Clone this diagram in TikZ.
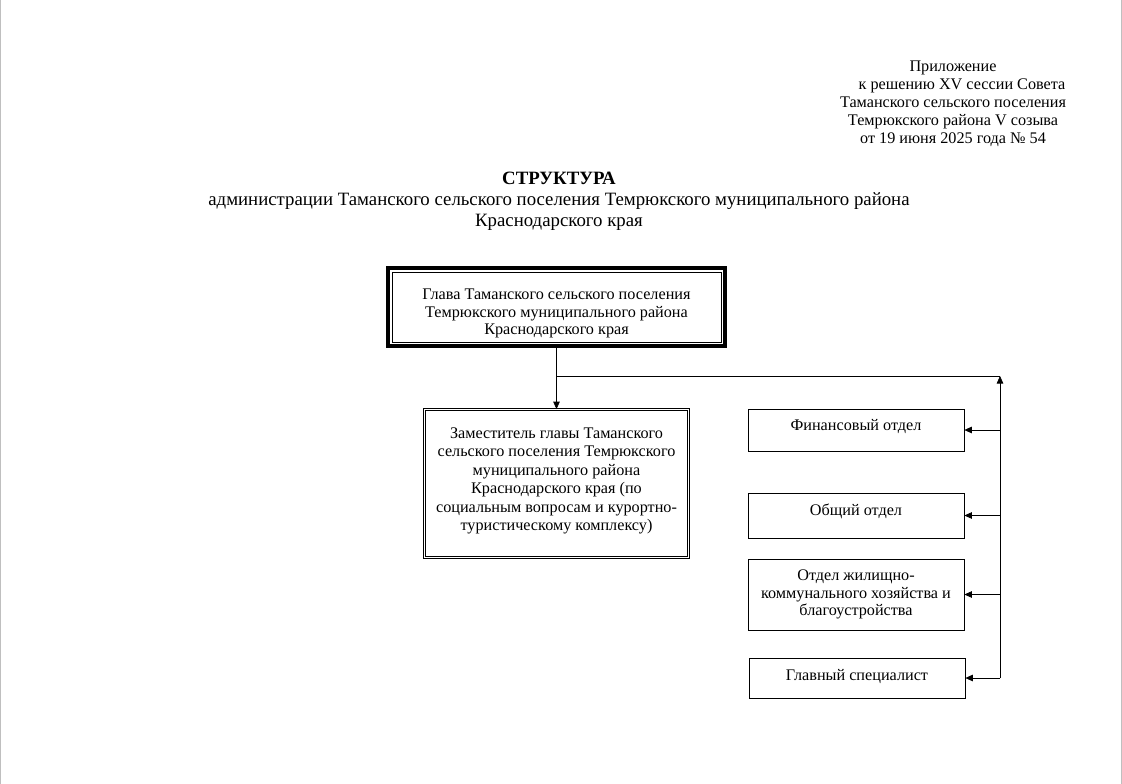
\documentclass[tikz,border=0pt]{standalone}
\usepackage{fontspec}
\setmainfont{Liberation Serif}
\usetikzlibrary{arrows.meta}

\begin{document}
\begin{tikzpicture}[x=1pt, y=-1pt]
\tikzset{
	unit/.style = {
		draw, rectangle, align=center,
		inner sep=2pt, font=\fontsize{16.2}{17.5}\selectfont
	},
	head/.style = {
		unit, line width=4pt,
		minimum width=337, minimum height=78
	},
	deputy/.style = {
		unit, double, line width=0.7pt, double distance=1.8pt,
		minimum width=264, minimum height=148,
		font=\fontsize{16.2}{18.5}\selectfont
	},
	dept/.style = {
		unit, line width=0.7pt, minimum width=216
	},
	link/.style = {
		draw, line width=0.7pt
	},
	arr/.style = {
		link, -{Triangle[length=7.5pt, width=6.5pt]}
	},
}

\useasboundingbox (0,0) rectangle (1122,784);
\draw [gray!50, line width=1pt] (0.5,0) -- (0.5,784);
\draw [gray!50, line width=1pt] (1121.5,0) -- (1121.5,784);

% header texts
\node [align=center, font=\fontsize{16.2}{18}\selectfont] (note) at (953,104)
	{Приложение\\ \hspace*{18pt}к решению XV сессии Совета\\ Таманского сельского поселения\\
	 Темрюкского района V созыва\\ от 19 июня 2025 года № 54};
\node [align=center, font=\fontsize{18.8}{21}\selectfont] (title) at (559,201)
	{\textbf{СТРУКТУРА}\\ администрации Таманского сельского поселения Темрюкского муниципального района\\
	 Краснодарского края};

% the boxes
\node [head] (head) at (556.5,307)
	{\rule{0pt}{24pt}Глава Таманского сельского поселения\\ Темрюкского муниципального района\\ Краснодарского края};
\draw [line width=0.7pt] ([shift={(6pt,-6pt)}]head.north west)
	rectangle ([shift={(-6pt,6pt)}]head.south east);

\node [deputy] (dep) at (556.5,483.5)
	{Заместитель главы Таманского\\ сельского поселения Темрюкского\\ муниципального района\\
	 Краснодарского края (по\\ социальным вопросам и курортно-\\ туристическому комплексу)\\[-10pt]\mbox{}};

\node [dept, minimum height=42] (fin) at (856,430) {\raisebox{10pt}{Финансовый отдел}};
\node [dept, minimum height=45] (obsh) at (856,515.5) {\raisebox{11pt}{Общий отдел}};
\node [dept, minimum height=71] (zhkh) at (856,594.5)
	{Отдел жилищно-\\ коммунального хозяйства и\\ благоустройства};
\node [dept, minimum height=40] (spec) at (857,678) {\raisebox{6pt}{Главный специалист}};

% attach them
\coordinate (fork) at (556.5,376);
\coordinate (bus) at (1000,376);
\path [arr] (head.south) -- (dep.north);
\path [link] (fork) -- (bus);
\path [arr] (bus |- spec.east) -- (bus);
\foreach \d in {fin, obsh, zhkh, spec}{
	\path [arr] (bus |- \d.east) -- (\d.east);
}

\end{tikzpicture}
\end{document}
